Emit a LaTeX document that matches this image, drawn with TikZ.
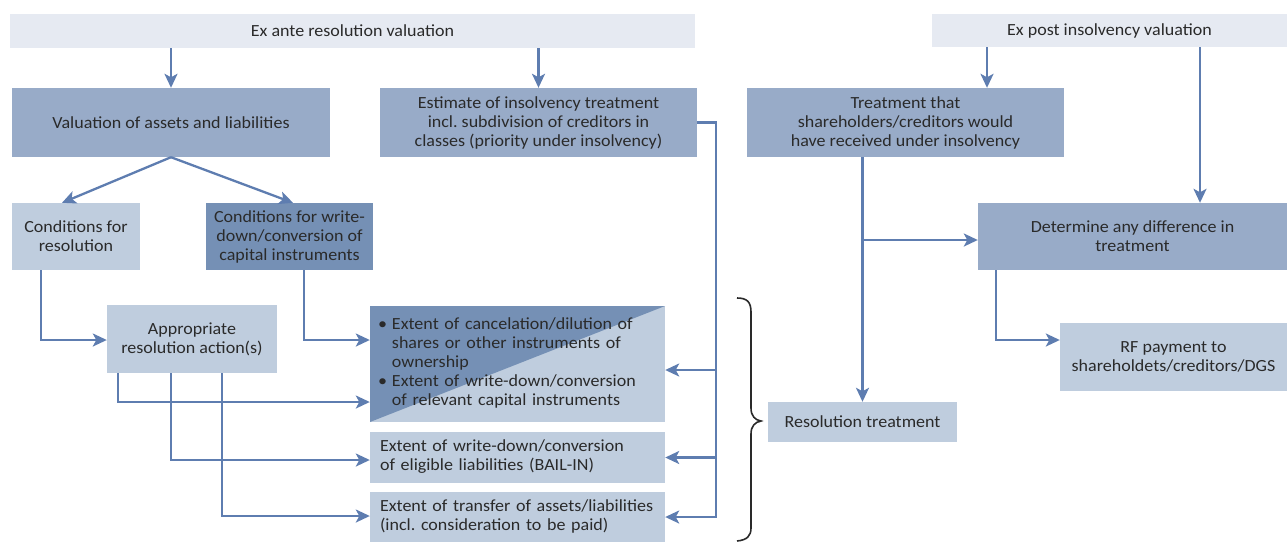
\documentclass[tikz,border=0pt]{standalone}
\usepackage{fontspec}
\setmainfont{Carlito}[FakeStretch=1.06]
\usetikzlibrary{arrows.meta,calc}
\definecolor{topc}{HTML}{E6EAF2}
\definecolor{midc}{HTML}{98ABC8}
\definecolor{lightc}{HTML}{BFCDDE}
\definecolor{darkc}{HTML}{7590B5}
\definecolor{linec}{HTML}{5E7DB0}
\definecolor{txt}{HTML}{2A2A2A}
\begin{document}
\begin{tikzpicture}[x=1pt,y=-1pt,
 font=\fontsize{17}{19}\selectfont, text=txt,
 box/.style={inner sep=0pt, align=center, draw=none},
 lbox/.style={inner ysep=0pt, inner xsep=10pt, align=left, text width=275pt, draw=none, fill=lightc},
 arr/.style={draw=linec, line width=2.3pt, -{Stealth[length=14pt,width=13pt,inset=3.5pt]}},
 bracestyle/.style={draw=txt, line width=1.6pt},
]
\useasboundingbox (0,0) rectangle (1287,542);

\node[box, fill=topc, minimum width=685, minimum height=34] (exante) at (352.5,31) {Ex ante resolution valuation};
\node[box, fill=topc, minimum width=355, minimum height=33] (expost) at (1109.5,30.5) {Ex post insolvency valuation};

\node[box, fill=midc, minimum width=318, minimum height=69] (val) at (171,122.5) {Valuation of assets and liabilities};
\node[box, fill=midc, minimum width=317, minimum height=69] (est) at (538.5,122.5) {Estimate of insolvency treatment\\incl.\ subdivision of creditors in\\classes (priority under insolvency)};
\node[box, fill=midc, minimum width=317, minimum height=69] (treat) at (905.5,122.5) {Treatment that\\shareholders/creditors would\\have received under insolvency};

\node[box, fill=lightc, minimum width=128, minimum height=67] (condres) at (76,236.5) {Conditions for\\resolution};
\node[box, fill=darkc, minimum width=167, minimum height=67] (condwd) at (289.5,236.5) {Conditions for write-\\down/conversion of\\capital instruments};
\node[box, fill=lightc, minimum width=170, minimum height=68] (approp) at (192,339) {Appropriate\\resolution action(s)};

\node[lbox, inner xsep=8pt, text width=279pt, minimum height=116,
  path picture={\fill[darkc] (path picture bounding box.north west) -- (path picture bounding box.north east) -- (path picture bounding box.south west) -- cycle;}]
  (ext1) at (517.5,364) {\begin{tabular}{@{}l@{\hspace{5pt}}l@{}}
  \textbullet & Extent of cancelation/dilution of\\
  & shares or other instruments of\\
  & ownership\\
  \textbullet & Extent of write-down/conversion\\
  & of relevant capital instruments
  \end{tabular}};
\node[lbox, minimum height=51] (bail) at (517.5,457.5) {\begin{tabular}{@{}l@{}}Extent of write-down/conversion\\of eligible liabilities (BAIL-IN)\end{tabular}};
\node[lbox, minimum height=50] (transfer) at (517.5,517) {\begin{tabular}{@{}l@{}}Extent of transfer of assets/liabilities\\(incl.\ consideration to be paid)\end{tabular}};

\node[box, fill=lightc, minimum width=189, minimum height=40] (restreat) at (862.5,422) {Resolution treatment};
\node[box, fill=midc, minimum width=309, minimum height=67] (determine) at (1132.5,236.5) {Determine any difference in\\treatment};
\node[box, fill=lightc, minimum width=227, minimum height=68] (rf) at (1173.5,357) {RF payment to\\shareholdets/creditors/DGS};

\coordinate (bus) at (716,0);

% connectors
\draw[arr] (exante.south -| val.north) -- (val.north);
\draw[arr] (exante.south -| est.north) -- (est.north);
\draw[arr] (expost.south -| 987,0) -- (treat.north -| 987,0);
\draw[arr] (expost.south -| 1200,0) -- (determine.north -| 1200,0);

\draw[arr] (val.south) -- (condres.north -| 62,0);
\draw[arr] (val.south) -- (condwd.north -| 293,0);

\draw[arr] (condres.south -| 41,0) |- (approp.west |- 0,340);
\draw[arr] (condwd.south -| 304,0) |- (ext1.west |- 0,340);

\draw[arr] (approp.south -| 118,0) |- (ext1.west |- 0,402);
\draw[arr] (approp.south -| 171,0) |- (bail.west |- 0,460);
\draw[arr] (approp.south -| 222,0) |- (transfer.west |- 0,516);

\draw[arr] (est.east) -| (bus |- transfer.east) -- (transfer.east);
\draw[arr] (bus |- bail.east) -- (bail.east);
\draw[arr] (bus |- 0,370) -- (ext1.east |- 0,370);

\draw[arr] (treat.south -| restreat.north) -- (restreat.north);
\draw[arr] (restreat.north |- 0,240) -- (determine.west |- 0,240);
\draw[arr] (determine.south -| 996,0) |- (rf.west |- 0,340);

% brace
\draw[bracestyle] (737,298) .. controls (747,298) and (751,302) .. (751,312) -- (751,408) .. controls (751,416) and (755,420) .. (761,421) .. controls (755,422) and (751,426) .. (751,434) -- (751,528) .. controls (751,536) and (747,540) .. (737,541);
\end{tikzpicture}
\end{document}
